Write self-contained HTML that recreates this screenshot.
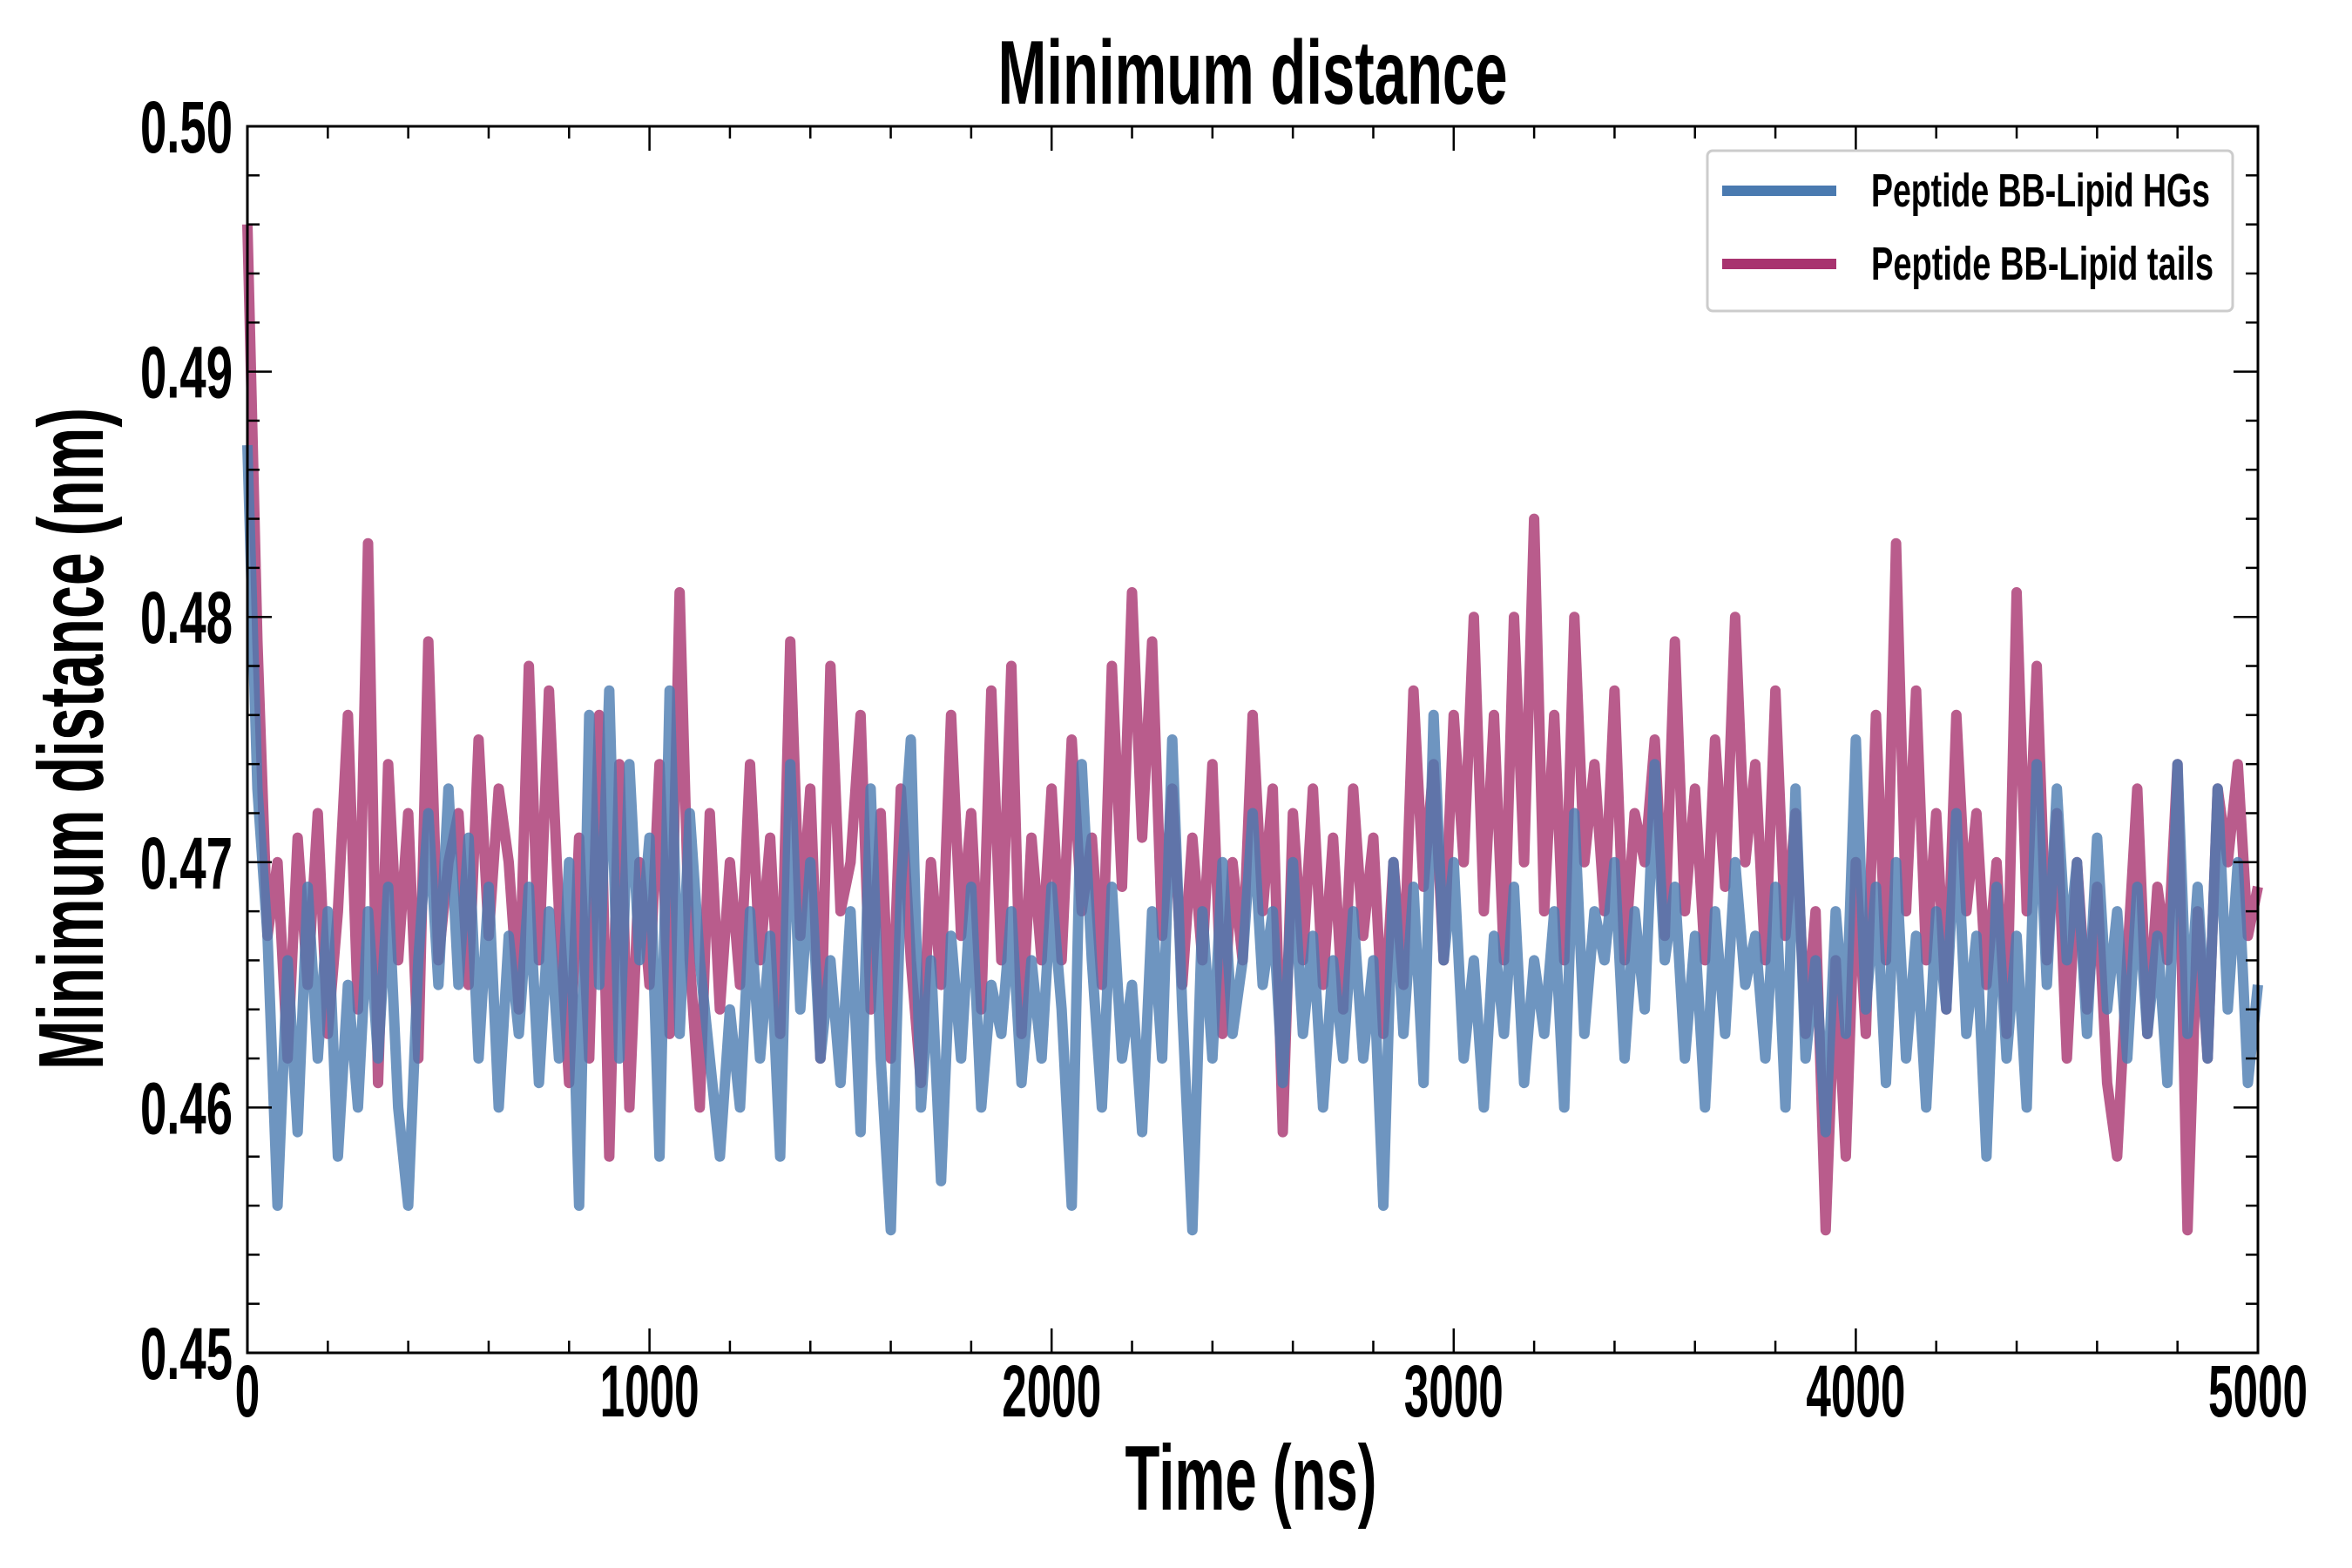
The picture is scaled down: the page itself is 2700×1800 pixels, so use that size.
<!DOCTYPE html>
<html><head><meta charset="utf-8"><style>
html,body{margin:0;padding:0;background:#fff;width:2700px;height:1800px;overflow:hidden}
text{font-family:"Liberation Sans Narrow","Liberation Sans",sans-serif;font-weight:bold;fill:#000}
</style></head><body>
<svg id="chart" width="2700" height="1800" viewBox="0 0 2700 1800" xmlns="http://www.w3.org/2000/svg">
<g id="series"></g>
<rect x="284" y="145" width="2308" height="1408" fill="none" stroke="#000" stroke-width="3"/>
<g id="ticks"></g>
<text x="1438" y="119" font-size="104" text-anchor="middle" textLength="585" lengthAdjust="spacingAndGlyphs">Minimum distance</text>
<text x="1436" y="1733" font-size="106" text-anchor="middle" textLength="289" lengthAdjust="spacingAndGlyphs">Time (ns)</text>
<text transform="translate(118,848) rotate(-90)" font-size="106" text-anchor="middle" textLength="760" lengthAdjust="spacingAndGlyphs">Minimum distance (nm)</text>
<g>
<rect x="1960" y="173" width="603" height="184" rx="6" fill="#fff" fill-opacity="0.85" stroke="#ccc" stroke-width="3"/>
<line x1="1977" y1="219" x2="2108" y2="219" stroke="#4a7ab0" stroke-width="12"/>
<text x="2148" y="237" font-size="54" textLength="389" lengthAdjust="spacingAndGlyphs">Peptide BB-Lipid HGs</text>
<line x1="1977" y1="303" x2="2108" y2="303" stroke="#a8336f" stroke-width="12"/>
<text x="2148" y="321" font-size="54" textLength="393" lengthAdjust="spacingAndGlyphs">Peptide BB-Lipid tails</text>
</g>
</svg>
<script>
const xTicks=[0,1000,2000,3000,4000,5000];
const xTickLabels=["0","1000","2000","3000","4000","5000"];
const yTicks=[0.45,0.46,0.47,0.48,0.49,0.50];
const yTickLabels=["0.45","0.46","0.47","0.48","0.49","0.50"];
const timeStep=25;
const hgsValues=[
0.487,0.473,0.467,0.456,0.466,0.459,0.469,0.462,0.468,0.458,
0.465,0.460,0.468,0.462,0.469,0.460,0.456,0.466,0.472,0.465,
0.473,0.465,0.471,0.462,0.469,0.460,0.467,0.463,0.469,0.461,
0.468,0.462,0.470,0.456,0.476,0.465,0.477,0.462,0.474,0.466,
0.471,0.458,0.477,0.463,0.472,0.466,0.462,0.458,0.464,0.460,
0.468,0.462,0.467,0.458,0.474,0.464,0.470,0.462,0.466,0.461,
0.468,0.459,0.473,0.462,0.455,0.469,0.475,0.460,0.466,0.457,
0.467,0.462,0.469,0.460,0.465,0.463,0.468,0.461,0.466,0.462,
0.469,0.464,0.456,0.474,0.466,0.460,0.469,0.462,0.465,0.459,
0.468,0.462,0.475,0.464,0.455,0.468,0.462,0.470,0.463,0.466,
0.472,0.465,0.468,0.461,0.470,0.463,0.467,0.460,0.466,0.462,
0.468,0.462,0.466,0.456,0.470,0.463,0.469,0.461,0.476,0.466,
0.470,0.462,0.466,0.460,0.467,0.463,0.469,0.461,0.466,0.463,
0.468,0.460,0.472,0.463,0.468,0.466,0.470,0.462,0.468,0.464,
0.474,0.466,0.469,0.462,0.467,0.460,0.468,0.463,0.470,0.465,
0.467,0.462,0.469,0.460,0.473,0.462,0.466,0.459,0.468,0.463,
0.475,0.464,0.469,0.461,0.470,0.462,0.467,0.460,0.468,0.464,
0.472,0.463,0.467,0.458,0.469,0.462,0.467,0.460,0.474,0.465,
0.473,0.466,0.470,0.463,0.471,0.464,0.468,0.462,0.469,0.463,
0.467,0.461,0.474,0.463,0.469,0.462,0.473,0.464,0.470,0.461,0.465];
const tailsValues=[
0.496,0.479,0.467,0.470,0.462,0.471,0.465,0.472,0.463,0.468,
0.476,0.464,0.483,0.461,0.474,0.466,0.472,0.462,0.479,0.466,
0.470,0.472,0.465,0.475,0.467,0.473,0.470,0.464,0.478,0.466,
0.477,0.468,0.461,0.471,0.462,0.476,0.458,0.474,0.460,0.470,
0.465,0.474,0.463,0.481,0.466,0.460,0.472,0.464,0.470,0.465,
0.474,0.466,0.471,0.463,0.479,0.467,0.473,0.462,0.478,0.468,
0.470,0.476,0.464,0.472,0.462,0.473,0.466,0.461,0.470,0.465,
0.476,0.467,0.472,0.464,0.477,0.466,0.478,0.463,0.471,0.466,
0.473,0.466,0.475,0.468,0.471,0.465,0.478,0.469,0.481,0.471,
0.479,0.467,0.473,0.465,0.471,0.466,0.474,0.463,0.470,0.466,
0.476,0.468,0.473,0.459,0.472,0.466,0.473,0.465,0.471,0.464,
0.473,0.467,0.471,0.463,0.470,0.465,0.477,0.469,0.474,0.466,
0.476,0.470,0.480,0.468,0.476,0.466,0.480,0.470,0.484,0.468,
0.476,0.466,0.480,0.470,0.474,0.468,0.477,0.466,0.472,0.470,
0.475,0.467,0.479,0.468,0.473,0.466,0.475,0.469,0.480,0.470,
0.474,0.466,0.477,0.467,0.472,0.463,0.468,0.455,0.466,0.458,
0.470,0.463,0.476,0.466,0.483,0.468,0.477,0.466,0.472,0.464,
0.476,0.468,0.472,0.465,0.470,0.463,0.481,0.468,0.478,0.466,
0.472,0.462,0.470,0.464,0.469,0.461,0.458,0.466,0.473,0.463,
0.469,0.466,0.474,0.455,0.468,0.462,0.473,0.470,0.474,0.467,0.469];

const L=284,R=2592,T=145,B=1553;
function xs(v){return L+(v-0)/(5000-0)*(R-L);}
function ys(v){return B-(v-0.45)/(0.50-0.45)*(B-T);}
const NS="http://www.w3.org/2000/svg";
const sg=document.getElementById('series');
function drawLine(vals,color,name){
  const p=document.createElementNS(NS,'path');
  
  
  p.setAttribute('d',vals.map((v,i)=>(i?'L':'M')+xs(i*timeStep).toFixed(1)+' '+ys(v).toFixed(1)).join(''));
  p.setAttribute('fill','none');p.setAttribute('stroke',color);
  p.setAttribute('stroke-width','12');p.setAttribute('stroke-opacity','0.8');
  p.setAttribute('stroke-linejoin','round');
  sg.appendChild(p);
}
drawLine(tailsValues,'#a8336f','line-lipid-tails');
drawLine(hgsValues,'#4a7ab0','line-lipid-hgs');

const tg=document.getElementById('ticks');
function ln(x1,y1,x2,y2,name){
  const l=document.createElementNS(NS,'line');
  
  
  l.setAttribute('x1',x1);l.setAttribute('y1',y1);l.setAttribute('x2',x2);l.setAttribute('y2',y2);
  l.setAttribute('stroke','#000');l.setAttribute('stroke-width','2.5');
  tg.appendChild(l);
}
function tx(x,y,s,anchor,len,name){
  const t=document.createElementNS(NS,'text');
  
  
  t.setAttribute('x',x);t.setAttribute('y',y);t.setAttribute('font-size','84');
  t.setAttribute('text-anchor',anchor);
  t.setAttribute('textLength',len);t.setAttribute('lengthAdjust','spacingAndGlyphs');
  t.textContent=s;tg.appendChild(t);
}
for(let v=0;v<=5000;v+=200){const x=xs(v);const major=v%1000===0;const k=major?28:14;
  ln(x,B,x,B-k,'x-tick');ln(x,T,x,T+k,'x-tick-top');}
for(let i=0;i<=25;i++){const v=0.45+i*0.002;const y=ys(v);const k=i%5===0?28:14;
  ln(L,y,L+k,y,'y-tick');ln(R,y,R-k,y,'y-tick-right');}
xTicks.forEach((v,i)=>{const s=xTickLabels[i];tx(xs(v),1626,s,'middle',s.length*28.5,'x-tick-label');});
yTicks.forEach((v,i)=>{tx(267,ys(v)+30,yTickLabels[i],'end',106,'y-tick-label');});
</script>
</body></html>
